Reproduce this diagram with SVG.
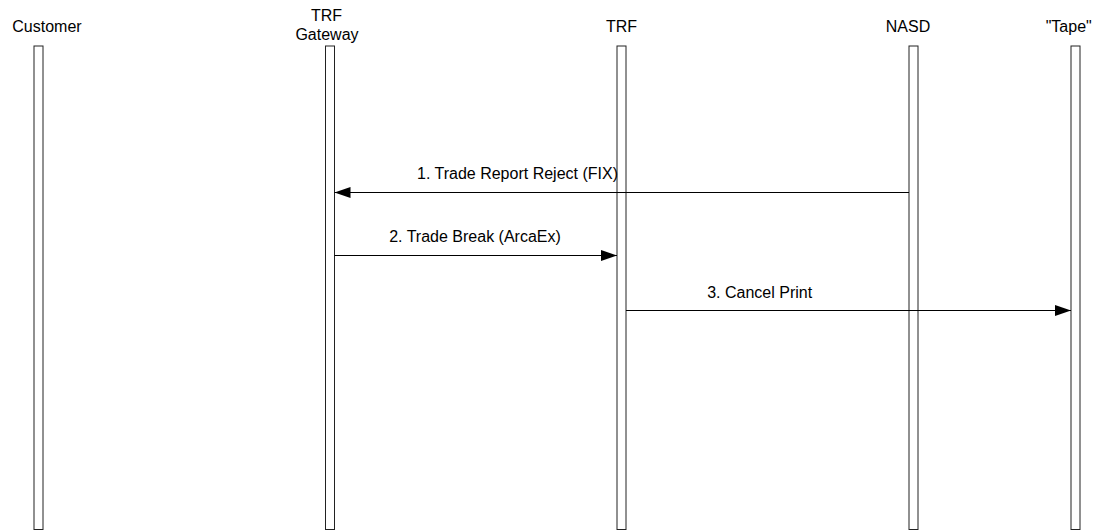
<svg xmlns="http://www.w3.org/2000/svg" width="1100" height="531" viewBox="0 0 1100 531">
<style>
  .lbl { font-family: "Liberation Sans", Arial, sans-serif; font-size: 16px; fill: #000; text-anchor: middle; }
  .bar { fill: #fff; stroke: #222; stroke-width: 1; }
  .msg { stroke: #000; stroke-width: 1; fill: none; marker-end: url(#ah); }
</style>
<defs>
  <marker id="ah" markerUnits="userSpaceOnUse" markerWidth="17" markerHeight="12" refX="16" refY="6" orient="auto">
    <path d="M0,0.5 L16,6 L0,11.5 Z" fill="#000"/>
  </marker>
</defs>
<rect width="1100" height="531" fill="#fff"/>
<g id="customer">
  <text class="lbl" x="47" y="32">Customer</text>
  <rect class="bar" x="34" y="46" width="9" height="483.5"/>
</g>
<g id="trf-gateway">
  <text class="lbl" x="326.5" y="21">TRF</text>
  <text class="lbl" x="327" y="39.5">Gateway</text>
  <rect class="bar" x="325.5" y="46" width="9" height="483.5"/>
</g>
<g id="trf">
  <text class="lbl" x="621.5" y="32">TRF</text>
  <rect class="bar" x="617" y="46" width="9" height="483.5"/>
</g>
<g id="nasd">
  <text class="lbl" x="908" y="32">NASD</text>
  <rect class="bar" x="909" y="46" width="9" height="483.5"/>
</g>
<g id="tape">
  <text class="lbl" x="1068.7" y="32">"Tape"</text>
  <rect class="bar" x="1071" y="46" width="9" height="483.5"/>
</g>
<g id="connectors">
  <line class="msg" x1="909" y1="192.5" x2="334.5" y2="192.5"/>
  <text class="lbl" x="517.5" y="179.3">1. Trade Report Reject (FIX)</text>
  <line class="msg" x1="334.5" y1="255.5" x2="617" y2="255.5"/>
  <text class="lbl" x="475" y="242.3">2. Trade Break (ArcaEx)</text>
  <line class="msg" x1="626" y1="310.5" x2="1071" y2="310.5"/>
  <text class="lbl" x="759.7" y="298.3">3. Cancel Print</text>
</g>
</svg>
